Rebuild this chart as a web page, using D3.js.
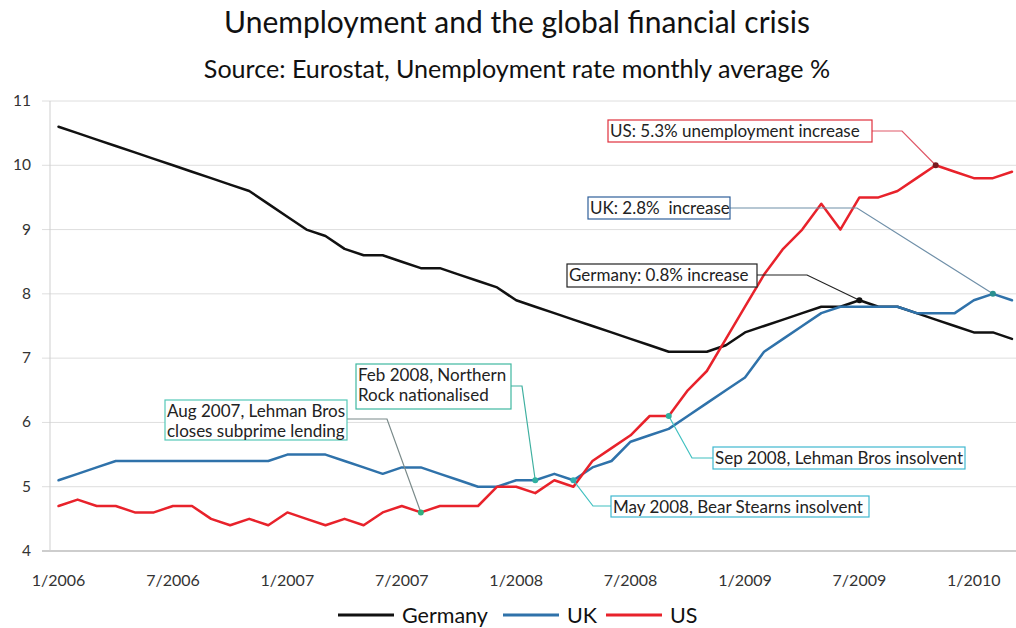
<!DOCTYPE html>
<html>
<head>
<meta charset="utf-8">
<script src="https://cdn.jsdelivr.net/npm/d3@7/dist/d3.min.js"></script>
<style>
  html, body { margin: 0; padding: 0; background: #fff; }
  svg { display: block; font-family: Lato, "Open Sans", sans-serif; }
</style>
</head>
<body>
<svg id="chart" width="1016" height="628"></svg>
<script>
// ---------------- data ----------------
const months = [
  "1/2006","2/2006","3/2006","4/2006","5/2006","6/2006","7/2006","8/2006","9/2006","10/2006","11/2006","12/2006",
  "1/2007","2/2007","3/2007","4/2007","5/2007","6/2007","7/2007","8/2007","9/2007","10/2007","11/2007","12/2007",
  "1/2008","2/2008","3/2008","4/2008","5/2008","6/2008","7/2008","8/2008","9/2008","10/2008","11/2008","12/2008",
  "1/2009","2/2009","3/2009","4/2009","5/2009","6/2009","7/2009","8/2009","9/2009","10/2009","11/2009","12/2009",
  "1/2010","2/2010","3/2010"
];
const tickLabels = ["1/2006","7/2006","1/2007","7/2007","1/2008","7/2008","1/2009","7/2009","1/2010"];
const yTicks = [4,5,6,7,8,9,10,11];

const germany = [10.6,10.5,10.4,10.3,10.2,10.1,10.0,9.9,9.8,9.7,9.6,9.4,9.2,9.0,8.9,8.7,8.6,8.6,8.5,8.4,8.4,8.3,8.2,8.1,
                 7.9,7.8,7.7,7.6,7.5,7.4,7.3,7.2,7.1,7.1,7.1,7.2,7.4,7.5,7.6,7.7,7.8,7.8,7.9,7.8,7.8,7.7,7.6,7.5,7.4,7.4,7.3];
const uk      = [5.1,5.2,5.3,5.4,5.4,5.4,5.4,5.4,5.4,5.4,5.4,5.4,5.5,5.5,5.5,5.4,5.3,5.2,5.3,5.3,5.2,5.1,5.0,5.0,
                 5.1,5.1,5.2,5.1,5.3,5.4,5.7,5.8,5.9,6.1,6.3,6.5,6.7,7.1,7.3,7.5,7.7,7.8,7.8,7.8,7.8,7.7,7.7,7.7,7.9,8.0,7.9];
const us      = [4.7,4.8,4.7,4.7,4.6,4.6,4.7,4.7,4.5,4.4,4.5,4.4,4.6,4.5,4.4,4.5,4.4,4.6,4.7,4.6,4.7,4.7,4.7,5.0,
                 5.0,4.9,5.1,5.0,5.4,5.6,5.8,6.1,6.1,6.5,6.8,7.3,7.8,8.3,8.7,9.0,9.4,9.0,9.5,9.5,9.6,9.8,10.0,9.9,9.8,9.8,9.9];

const seriesNames = ["Germany","UK","US"];
const seriesValues = [germany, uk, us];

// annotation texts and the data point each one refers to
const annTexts = [
  ["US: 5.3% unemployment increase"],
  ["UK: 2.8%  increase"],
  ["Germany: 0.8% increase"],
  ["Feb 2008, Northern", "Rock nationalised"],
  ["Aug 2007, Lehman Bros", "closes subprime lending"],
  ["Sep 2008, Lehman Bros insolvent"],
  ["May 2008, Bear Stearns insolvent"]
];
const annSeries = ["US","UK","Germany","UK","US","US","UK"];
const annMonth  = ["11/2009","2/2010","7/2009","2/2008","8/2007","9/2008","4/2008"];

// ---------------- layout / style ----------------
const colors = { Germany: "#111111", UK: "#2f72aa", US: "#e8222b" };
const annStyle = [
  { stroke: "#e0303c", line: "#e05868", dot: "#7a1a20" },
  { stroke: "#2f5f9a", line: "#6f8fa8", dot: "#2a9090" },
  { stroke: "#222222", line: "#222222", dot: "#111111" },
  { stroke: "#3fb8a0", line: "#3fb0a0", dot: "#30b0a0" },
  { stroke: "#55c8b8", line: "#7a8a8a", dot: "#30b080" },
  { stroke: "#40b8d0", line: "#40c0c0", dot: "#30b0a0" },
  { stroke: "#40b8d0", line: "#40c0c0", dot: "#30b0b0" }
];
const annBox = [
  { box:[608,120,264,22], from:[872,131], elbow:[902,131] },
  { box:[588,197,142,22], from:[730,208], elbow:[857,208] },
  { box:[567,264,190,23], from:[757,275], elbow:[807,275] },
  { box:[356,364,155,45], from:[511,386], elbow:[522,386] },
  { box:[165,400,182,40], from:[347,419], elbow:[387,419] },
  { box:[713,447,252,22], from:[713,458], elbow:[692,458] },
  { box:[611,496,258,21], from:[611,506], elbow:[593,506] }
];

const svg = d3.select("#chart");
const W = 1016, H = 628;
const x = d3.scalePoint().domain(months).range([49, 1021.5]).padding(0.5);
const y = d3.scaleLinear().domain([4, 11]).range([551, 101]);

// title
svg.append("text").attr("x", 517).attr("y", 33).attr("text-anchor", "middle")
  .attr("font-size", 30).attr("fill", "#111").text("Unemployment and the global financial crisis");
svg.append("text").attr("x", 517).attr("y", 78).attr("text-anchor", "middle")
  .attr("font-size", 25.1).attr("fill", "#111").text("Source: Eurostat, Unemployment rate monthly average %");

// gridlines
svg.append("g").selectAll("line").data(yTicks).join("line")
  .attr("x1", 42).attr("x2", W).attr("y1", d => y(d)).attr("y2", d => y(d))
  .attr("stroke", d => d === 4 ? "#bdbdbd" : "#dedede").attr("stroke-width", d => d === 4 ? 1.5 : 1);
// y axis line
svg.append("line").attr("x1", 50).attr("x2", 50).attr("y1", y(11)).attr("y2", y(4))
  .attr("stroke", "#cfcfcf").attr("stroke-width", 1);

// y labels
svg.append("g").selectAll("text").data(yTicks).join("text")
  .attr("x", 31).attr("y", d => y(d) + 5).attr("text-anchor", "end")
  .attr("font-size", 15.5).attr("fill", "#333").text(d => d);

// x labels
svg.append("g").selectAll("text").data(tickLabels).join("text")
  .attr("x", d => x(d)).attr("y", 586).attr("text-anchor", "middle")
  .attr("font-size", 16).attr("fill", "#333").text(d => d);

// lines
const line = d3.line().x((d, i) => x(months[i])).y(d => y(d)).curve(d3.curveLinear);
svg.append("g").selectAll("path").data(seriesNames).join("path")
  .attr("d", (d, i) => line(seriesValues[i]))
  .attr("fill", "none").attr("stroke", d => colors[d]).attr("stroke-width", 2.5)
  .attr("stroke-linejoin", "round").attr("stroke-linecap", "round");

// annotations
const ann = svg.append("g");
annTexts.forEach((lines, k) => {
  const vals = seriesValues[seriesNames.indexOf(annSeries[k])];
  const idx = months.indexOf(annMonth[k]);
  const px = x(annMonth[k]), py = y(vals[idx]);
  const L = annBox[k], st = annStyle[k];
  ann.append("polyline")
    .attr("points", [L.from, L.elbow, [px, py]].map(p => p.join(",")).join(" "))
    .attr("fill", "none").attr("stroke", st.line).attr("stroke-width", 1.2);
  ann.append("rect").attr("x", L.box[0]).attr("y", L.box[1]).attr("width", L.box[2]).attr("height", L.box[3])
    .attr("fill", "#fff").attr("stroke", st.stroke).attr("stroke-width", 1.2);
  const t = ann.append("text").attr("font-size", 17).attr("fill", "#222").attr("xml:space", "preserve")
    .style("white-space", "pre");
  lines.forEach((s, j) => {
    t.append("tspan").attr("x", L.box[0] + 2).attr("y", L.box[1] + (lines.length > 1 ? 17 + j * 20 : 17)).text(s);
  });
  ann.append("circle").attr("cx", px).attr("cy", py).attr("r", 3).attr("fill", st.dot);
});

// legend
const legX = [338, 503, 606];
const lg = svg.append("g");
seriesNames.forEach((n, i) => {
  lg.append("line").attr("x1", legX[i]).attr("x2", legX[i] + 56).attr("y1", 615).attr("y2", 615)
    .attr("stroke", colors[n]).attr("stroke-width", 3);
  lg.append("text").attr("x", legX[i] + 64).attr("y", 623).attr("font-size", 21.5).attr("fill", "#111").text(n);
});
</script>
</body>
</html>
